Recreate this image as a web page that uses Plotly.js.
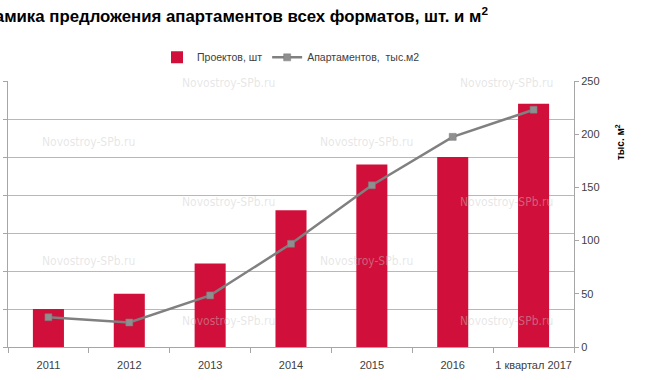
<!DOCTYPE html>
<html>
<head>
<meta charset="utf-8">
<script src="https://cdn.plot.ly/plotly-3.0.1.min.js"></script>
<style>
html,body{margin:0;padding:0;background:#fff;}
#chart{width:658px;height:380px;}
</style>
</head>
<body>
<div id="chart"></div>
<script>
var categories = ["2011", "2012", "2013", "2014", "2015", "2016", "1 квартал 2017"];
var projects = [5, 7, 11, 18, 24, 25, 32];
var apartments = [28, 23, 48.5, 97, 152, 197.5, 223];
var seriesNames = ["Проектов, шт", "Апартаментов,  тыс.м2"];
var titleText = "Динамика предложения апартаментов всех форматов, шт. и м<sup>2</sup>";
var rightAxisTitle = "тыс. м<sup>2</sup>";
var watermark = "Novostroy-SPb.ru";

var traces = [
  {
    type: "bar",
    x: categories,
    y: projects,
    name: seriesNames[0],
    marker: {color: "#d0103a"},
    yaxis: "y"
  },
  {
    type: "scatter",
    mode: "lines+markers",
    x: categories,
    y: apartments,
    name: seriesNames[1],
    line: {color: "#808080", width: 2.5},
    marker: {symbol: "square", size: 7, color: "#8f8f8f", line: {color: "#7a7a7a", width: 0.5}},
    yaxis: "y2"
  }
];

// faint watermarks (only those fully inside the picture)
var annotations = [];
var wmRowsEven = [142, 261];
var wmRowsOdd = [83, 202, 321];
var wmColsEven = [40, 318];
var wmColsOdd = [180, 458];
function addWm(px, py) {
  annotations.push({
    xref: "paper", yref: "paper",
    x: (px - 8) / 566, y: (347.5 - py) / 266.8,
    xanchor: "left", yanchor: "middle",
    text: watermark, showarrow: false,
    font: {family: "DejaVu Sans Condensed, Liberation Sans Narrow, sans-serif", size: 12, color: "rgba(200,200,200,0.45)"}
  });
}
wmRowsEven.forEach(function(r){ wmColsEven.forEach(function(c){ addWm(c, r); }); });
wmRowsOdd.forEach(function(r){ wmColsOdd.forEach(function(c){ addWm(c, r); }); });

annotations.push({
  xref: "paper", yref: "paper",
  x: (620 - 8) / 566, y: (347.5 - 142) / 266.8,
  xanchor: "center", yanchor: "middle",
  text: "<b>" + rightAxisTitle + "</b>", textangle: -90, showarrow: false,
  font: {family: "Liberation Sans, Arial, sans-serif", size: 10, color: "#000"}
});

var layout = {
  width: 658, height: 380,
  margin: {l: 8, r: 84, t: 81, b: 32.5, pad: 0},
  paper_bgcolor: "#fff", plot_bgcolor: "#fff",
  font: {family: "Liberation Sans, Arial, sans-serif", size: 11, color: "#404040"},
  title: {
    text: titleText,
    x: 488 / 658, xanchor: "right", xref: "container",
    y: 1 - 16 / 380, yanchor: "middle", yref: "container",
    font: {family: "Liberation Sans, Arial, sans-serif", size: 16.8, color: "#000", weight: "bold"}
  },
  bargap: 0.616,
  showlegend: true,
  legend: {
    orientation: "h",
    x: 0.5, xanchor: "center",
    y: (347.5 - 57) / 266.8, yanchor: "middle",
    font: {size: 10.5, color: "#404040"},
    bgcolor: "rgba(0,0,0,0)"
  },
  xaxis: {
    type: "category",
    showgrid: false,
    showline: true, linecolor: "#a6a6a6", linewidth: 1,
    ticks: "outside", tickson: "boundaries", ticklen: 5, tickcolor: "#a6a6a6",
    tickangle: 0,
    ticklabelstandoff: 8,
    tickfont: {size: 11, color: "#404040"},
    fixedrange: true
  },
  yaxis: {
    range: [0, 35], dtick: 5,
    showgrid: true, gridcolor: "#b8b8b8", gridwidth: 1,
    showline: true, linecolor: "#a6a6a6", linewidth: 1,
    ticks: "outside", ticklen: 4, tickcolor: "#a6a6a6",
    showticklabels: false,
    zeroline: false
  },
  yaxis2: {
    overlaying: "y", side: "right",
    range: [0, 250], dtick: 50,
    showgrid: false,
    showline: true, linecolor: "#a6a6a6", linewidth: 1,
    ticks: "outside", ticklen: 4, tickcolor: "#a6a6a6",
    tickfont: {size: 11, color: "#404040"},
    zeroline: false
  },
  annotations: annotations
};

Plotly.newPlot("chart", traces, layout, {displayModeBar: false, staticPlot: true});
</script>
</body>
</html>
